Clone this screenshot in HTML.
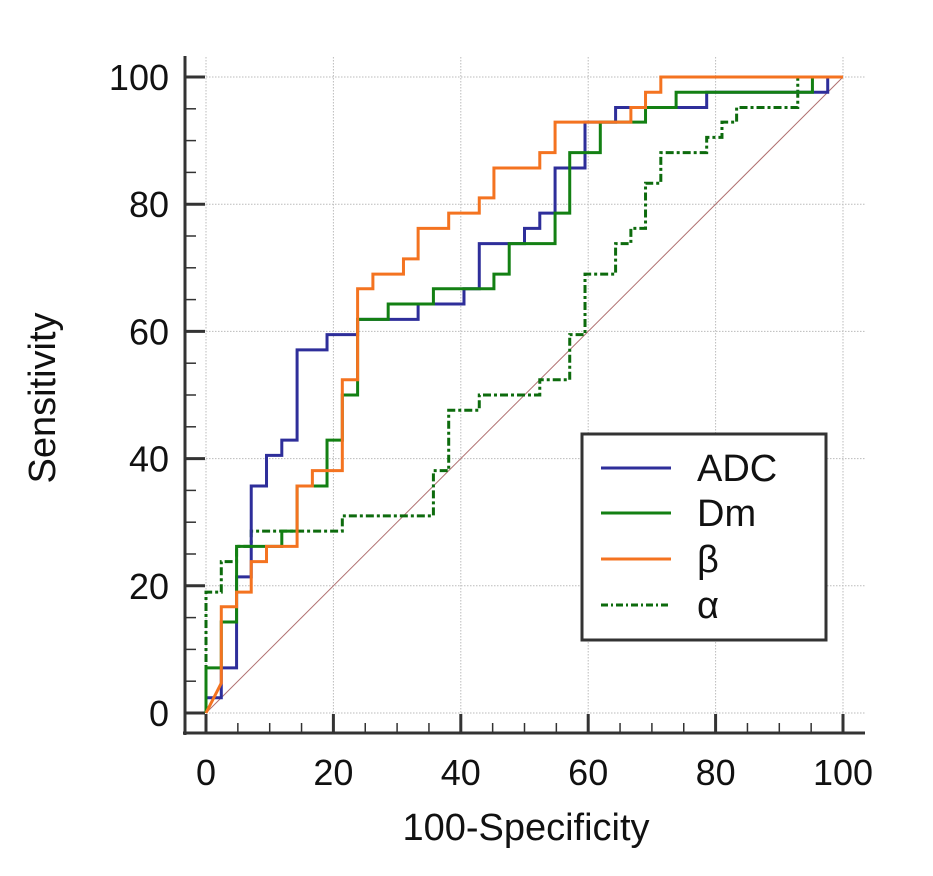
<!DOCTYPE html>
<html><head><meta charset="utf-8"><style>
body{margin:0;background:#fff}
svg text{font-family:"Liberation Sans",sans-serif;fill:#111}
</style></head><body>
<svg id="chart" width="933" height="871" xmlns="http://www.w3.org/2000/svg">
<g id="grid"></g>
<g id="axes"></g>
<g id="series"></g>
<text x="0" y="0" font-size="38" text-anchor="middle" transform="translate(55,398) rotate(-90)">Sensitivity</text>
<text x="526" y="840" font-size="38" text-anchor="middle">100-Specificity</text>
<g>
<rect x="582" y="434" width="244" height="206" fill="#fff" stroke="#333" stroke-width="3"/>
<line x1="601" y1="468" x2="671" y2="468" stroke="#2e2e9a" stroke-width="3"/>
<text x="697" y="481" font-size="38">ADC</text>
<line x1="601" y1="513" x2="671" y2="513" stroke="#138013" stroke-width="3"/>
<text x="697" y="526" font-size="38">Dm</text>
<line x1="601" y1="559" x2="671" y2="559" stroke="#f47320" stroke-width="3"/>
<text x="697" y="572" font-size="38">β</text>
<line x1="601" y1="605" x2="671" y2="605" stroke="#0d6b0d" stroke-width="3" stroke-dasharray="7,3,2,3"/>
<text x="697" y="618" font-size="38">α</text>
</g>
</svg>
<script>
const xTicks=[0,20,40,60,80,100];
const yTicks=[0,20,40,60,80,100];
const adcX=[0,0,2.4,2.4,4.8,4.8,7.1,7.1,9.5,9.5,11.9,11.9,14.3,14.3,19,19,23.8,23.8,33.3,33.3,40.5,40.5,42.9,42.9,50,50,52.4,52.4,54.8,54.8,59.5,59.5,64.3,64.3,78.6,78.6,97.6,97.6,100];
const adcY=[0,2.4,2.4,7.1,7.1,21.4,21.4,35.7,35.7,40.5,40.5,42.9,42.9,57.1,57.1,59.5,59.5,61.9,61.9,64.3,64.3,66.7,66.7,73.8,73.8,76.2,76.2,78.6,78.6,85.7,85.7,92.9,92.9,95.2,95.2,97.6,97.6,100,100];
const dmX=[0,0,2.4,2.4,4.8,4.8,11.9,11.9,14.3,14.3,19,19,21.4,21.4,23.8,23.8,28.6,28.6,35.7,35.7,45.2,45.2,47.6,47.6,54.8,54.8,57.1,57.1,61.9,61.9,69,69,73.8,73.8,95.2,95.2,100];
const dmY=[0,7.1,7.1,14.3,14.3,26.2,26.2,28.6,28.6,35.7,35.7,42.9,42.9,50,50,61.9,61.9,64.3,64.3,66.7,66.7,69,69,73.8,73.8,78.6,78.6,88.1,88.1,92.9,92.9,95.2,95.2,97.6,97.6,100,100];
const betaX=[0,2.4,2.4,4.8,4.8,7.1,7.1,9.5,9.5,14.3,14.3,16.7,16.7,21.4,21.4,23.8,23.8,26.2,26.2,31,31,33.3,33.3,38.1,38.1,42.9,42.9,45.2,45.2,52.4,52.4,54.8,54.8,66.7,66.7,69,69,71.4,71.4,100];
const betaY=[0,4.7,16.7,16.7,19,19,23.8,23.8,26.2,26.2,35.7,35.7,38.1,38.1,52.4,52.4,66.7,66.7,69,69,71.4,71.4,76.2,76.2,78.6,78.6,81,81,85.7,85.7,88.1,88.1,92.9,92.9,95.2,95.2,97.6,97.6,100,100];
const alphaX=[0,0,2.4,2.4,4.8,4.8,7.1,7.1,21.4,21.4,35.7,35.7,38.1,38.1,42.9,42.9,52.4,52.4,57.1,57.1,59.5,59.5,64.3,64.3,66.7,66.7,69,69,71.4,71.4,78.6,78.6,81,81,83.3,83.3,92.9,92.9,100];
const alphaY=[0,19,19,23.8,23.8,26.2,26.2,28.6,28.6,31,31,38.1,38.1,47.6,47.6,50,50,52.4,52.4,59.5,59.5,69,69,73.8,73.8,76.2,76.2,83.3,83.3,88.1,88.1,90.5,90.5,92.9,92.9,95.2,95.2,100,100];

const NS='http://www.w3.org/2000/svg';
const X0=206,X1=843,Y0=713,Y1=77;
function sx(v){return X0+(X1-X0)*v/100;}
function sy(v){return Y0-(Y0-Y1)*v/100;}
function mk(parent,tag,attrs){const e=document.createElementNS(NS,tag);for(const k in attrs)e.setAttribute(k,attrs[k]);parent.appendChild(e);return e;}
const grid=document.getElementById('grid'),axes=document.getElementById('axes'),series=document.getElementById('series');
xTicks.forEach(v=>{
  const l=mk(grid,'line',{x1:sx(v),x2:sx(v),y1:57,y2:733,stroke:'#bbb','stroke-width':1,'stroke-dasharray':'1.5,1.5'});
  
  
});
yTicks.forEach(v=>{
  const l=mk(grid,'line',{x1:185,x2:865,y1:sy(v),y2:sy(v),stroke:'#bbb','stroke-width':1,'stroke-dasharray':'1.5,1.5'});
  
  
});
mk(axes,'line',{x1:185,x2:185,y1:56,y2:735,stroke:'#333','stroke-width':3});
mk(axes,'line',{x1:183,x2:865,y1:733,y2:733,stroke:'#333','stroke-width':3});
for(let v=0;v<=100;v+=5){
  const major=v%20===0;
  mk(axes,'line',{x1:sx(v),x2:sx(v),y1:733,y2:major?714:723,stroke:'#333','stroke-width':major?3:1.5});
  mk(axes,'line',{x1:185,x2:major?205:196,y1:sy(v),y2:sy(v),stroke:'#333','stroke-width':major?3:1.5});
}
xTicks.forEach(v=>{
  const t=mk(axes,'text',{x:sx(v),y:785,'font-size':36,'text-anchor':'middle'});t.textContent=v;
  
  
});
yTicks.forEach(v=>{
  const t=mk(axes,'text',{x:169,y:sy(v)+13,'font-size':36,'text-anchor':'end'});t.textContent=v;
  
  
});
const diag=mk(series,'line',{x1:sx(0),y1:sy(0),x2:sx(100),y2:sy(100),stroke:'#b07070','stroke-width':1});


function draw(xs,ys,color,dash,name){
  const pts=xs.map((x,i)=>sx(x)+','+sy(ys[i])).join(' ');
  const p=mk(series,'polyline',{points:pts,fill:'none',stroke:color,'stroke-width':3});
  if(dash)p.setAttribute('stroke-dasharray',dash);
  
  
}
draw(alphaX,alphaY,'#0d6b0d','8,3,3,3','alpha-curve');
draw(adcX,adcY,'#2e2e9a',null,'adc-curve');
draw(dmX,dmY,'#138013',null,'dm-curve');
draw(betaX,betaY,'#f47320',null,'beta-curve');
</script>
</body></html>
